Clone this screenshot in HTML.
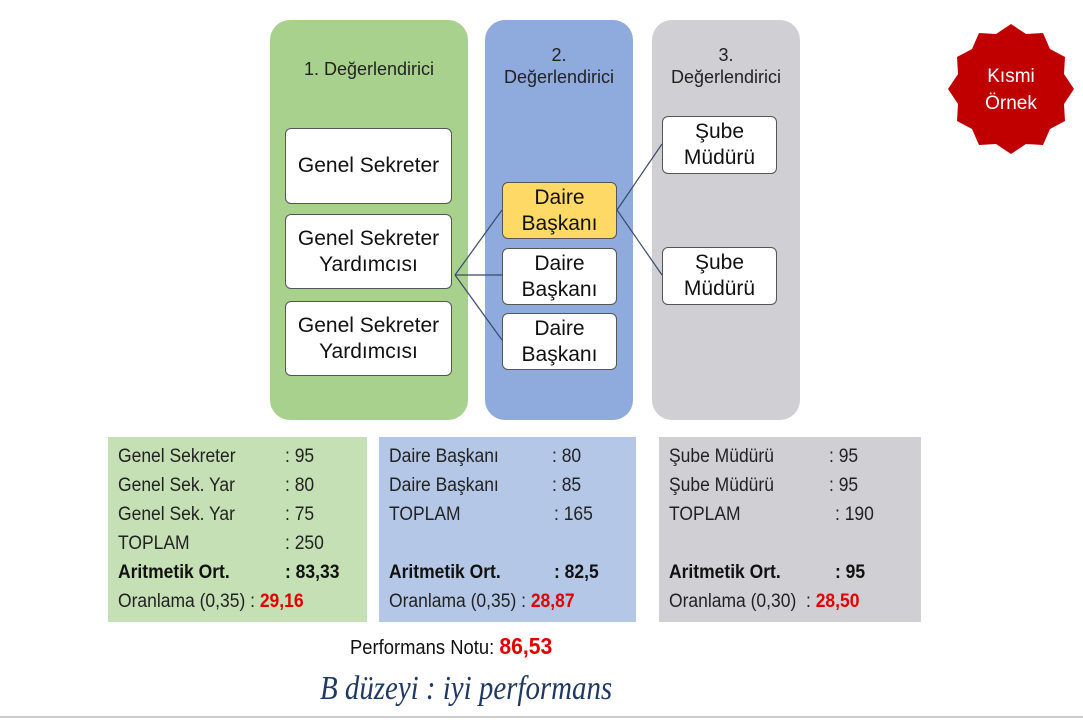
<!DOCTYPE html>
<html><head><meta charset="utf-8"><style>
body{margin:0;width:1083px;height:720px;background:#fff;position:relative;overflow:hidden;font-family:"Liberation Sans",sans-serif;}
.a{position:absolute;}
.col{position:absolute;top:20px;height:400px;border-radius:20px;}
.box{position:absolute;background:#fff;border:1px solid #555;border-radius:6px;display:flex;align-items:center;justify-content:center;text-align:center;font-size:21px;line-height:26px;color:#111;box-sizing:border-box;}
.h{position:absolute;text-align:center;font-size:18px;line-height:22px;color:#222;}
.tb{position:absolute;top:437px;height:185px;}
.t{position:absolute;font-size:19px;color:#222;white-space:nowrap;transform:scaleX(0.92);transform-origin:left;}
.b{font-weight:bold;color:#111}
.r{color:#e00000;font-weight:bold}
</style></head><body>
<div class="col" style="left:270px;width:198px;background:#a9d18e"></div>
<div class="col" style="left:485px;width:148px;background:#8faadc"></div>
<div class="col" style="left:652px;width:148px;background:#d0d0d4"></div>
<div class="h" style="left:270px;width:198px;top:58px">1. Değerlendirici</div>
<div class="h" style="left:485px;width:148px;top:44px">2.<br>Değerlendirici</div>
<div class="h" style="left:652px;width:148px;top:44px">3.<br>Değerlendirici</div>
<svg class="a" style="left:0;top:0" width="1083" height="720">
<g stroke="#3a4a6a" stroke-width="1.2" fill="none">
<line x1="455" y1="275" x2="502" y2="210"/><line x1="455" y1="275" x2="502" y2="275"/><line x1="455" y1="275" x2="502" y2="340"/>
<line x1="617" y1="210" x2="662" y2="144"/><line x1="617" y1="210" x2="662" y2="275"/>
</g>
<polygon fill="#c00000" points="1011,24 1026,34 1043,33 1050,49 1065,57 1064,74 1074,89 1064,104 1065,121 1050,129 1043,145 1026,144 1011,154 996,144 979,145 972,129 957,121 958,104 948,89 958,74 957,57 972,49 979,33 996,34"/>
<text x="1011" y="82" fill="#fff" font-size="19" text-anchor="middle" font-family="Liberation Sans">Kısmi</text>
<text x="1011" y="109" fill="#fff" font-size="19" text-anchor="middle" font-family="Liberation Sans">Örnek</text>
<line x1="0" y1="717" x2="1083" y2="717" stroke="#ccc" stroke-width="2"/>
</svg>
<div class="box" style="left:285px;top:128px;width:167px;height:76px">Genel Sekreter</div>
<div class="box" style="left:285px;top:214px;width:167px;height:75px">Genel Sekreter<br>Yardımcısı</div>
<div class="box" style="left:285px;top:301px;width:167px;height:75px">Genel Sekreter<br>Yardımcısı</div>
<div class="box" style="left:502px;top:182px;width:115px;height:57px;background:#ffd966">Daire<br>Başkanı</div>
<div class="box" style="left:502px;top:248px;width:115px;height:57px">Daire<br>Başkanı</div>
<div class="box" style="left:502px;top:313px;width:115px;height:57px">Daire<br>Başkanı</div>
<div class="box" style="left:662px;top:116px;width:115px;height:58px">Şube<br>Müdürü</div>
<div class="box" style="left:662px;top:247px;width:115px;height:58px">Şube<br>Müdürü</div>
<div class="tb" style="left:108px;width:259px;background:#c5e0b4"></div>
<div class="tb" style="left:379px;width:257px;background:#b4c7e7"></div>
<div class="tb" style="left:659px;width:262px;background:#d0d0d4"></div>
<div class="t" style="left:118px;top:446px">Genel Sekreter</div><div class="t" style="left:285px;top:446px">: 95</div>
<div class="t" style="left:118px;top:475px">Genel Sek. Yar</div><div class="t" style="left:285px;top:475px">: 80</div>
<div class="t" style="left:118px;top:504px">Genel Sek. Yar</div><div class="t" style="left:285px;top:504px">: 75</div>
<div class="t" style="left:118px;top:533px">TOPLAM</div><div class="t" style="left:285px;top:533px">: 250</div>
<div class="t b" style="left:118px;top:562px">Aritmetik Ort.</div><div class="t b" style="left:285px;top:562px">: 83,33</div>
<div class="t" style="left:118px;top:591px">Oranlama (0,35) : <span class="r">29,16</span></div>
<div class="t" style="left:389px;top:446px">Daire Başkanı</div><div class="t" style="left:552px;top:446px">: 80</div>
<div class="t" style="left:389px;top:475px">Daire Başkanı</div><div class="t" style="left:552px;top:475px">: 85</div>
<div class="t" style="left:389px;top:504px">TOPLAM</div><div class="t" style="left:554px;top:504px">: 165</div>
<div class="t b" style="left:389px;top:562px">Aritmetik Ort.</div><div class="t b" style="left:554px;top:562px">: 82,5</div>
<div class="t" style="left:389px;top:591px">Oranlama (0,35) : <span class="r">28,87</span></div>
<div class="t" style="left:669px;top:446px">Şube Müdürü</div><div class="t" style="left:829px;top:446px">: 95</div>
<div class="t" style="left:669px;top:475px">Şube Müdürü</div><div class="t" style="left:829px;top:475px">: 95</div>
<div class="t" style="left:669px;top:504px">TOPLAM</div><div class="t" style="left:835px;top:504px">: 190</div>
<div class="t b" style="left:669px;top:562px">Aritmetik Ort.</div><div class="t b" style="left:835px;top:562px">: 95</div>
<div class="t" style="left:669px;top:591px">Oranlama (0,30) &nbsp;: <span class="r">28,50</span></div>
<div class="t" style="left:350px;top:633px;font-size:20px;color:#111">Performans Notu: <span class="r" style="font-size:23px">86,53</span></div>
<div class="a" style="left:320px;top:670px;font-family:'Liberation Serif',serif;font-style:italic;font-size:34px;color:#1f3864;white-space:nowrap;transform:scaleX(0.85);transform-origin:left">B düzeyi : iyi performans</div>
</body></html>
